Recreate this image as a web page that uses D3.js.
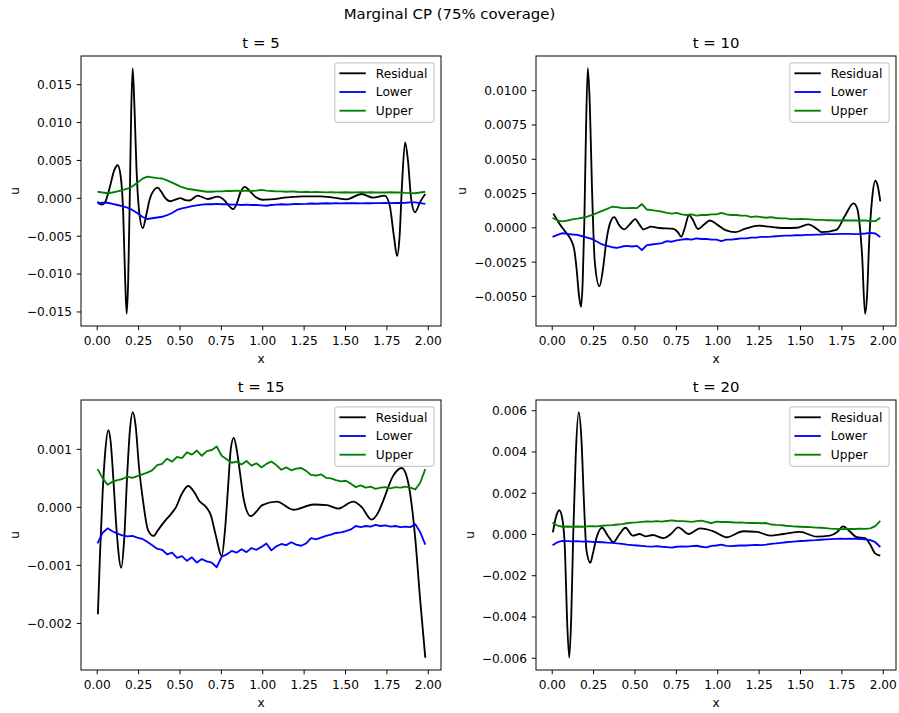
<!DOCTYPE html>
<html>
<head>
<meta charset="utf-8">
<script src="https://cdn.jsdelivr.net/npm/d3@7"></script>
<style>
  html, body { margin: 0; padding: 0; background: #fff; }
  svg { display: block; }
  svg text { font-family: 'DejaVu Sans', sans-serif; }
</style>
</head>
<body>
<script>
// ---------------- DATA ----------------
const figTitle = "Marginal CP (75% coverage)";
const panelTitles = ["t = 5", "t = 10", "t = 15", "t = 20"];
const seriesNames = ["Residual", "Lower", "Upper"];
const seriesColors = ["#000000", "#0000ff", "#008000"];
const xTicks = [0, 0.25, 0.5, 0.75, 1.0, 1.25, 1.5, 1.75, 2.0];
const xLimits = [-0.095, 2.08];

const yTicks5 = [-0.015, -0.010, -0.005, 0.000, 0.005, 0.010, 0.015];
const yTicks10 = [-0.005, -0.0025, 0.0, 0.0025, 0.005, 0.0075, 0.01];
const yTicks15 = [-0.002, -0.001, 0.0, 0.001];
const yTicks20 = [-0.006, -0.004, -0.002, 0.0, 0.002, 0.004, 0.006];

// x grid of the interval bands
const xBand = [0.005,0.035,0.065,0.095,0.125,0.155,0.185,0.215,0.245,0.275,
  0.305,0.335,0.365,0.395,0.425,0.455,0.485,0.515,0.545,0.575,
  0.605,0.635,0.665,0.695,0.725,0.755,0.785,0.815,0.845,0.875,
  0.905,0.935,0.965,0.995,1.025,1.055,1.085,1.115,1.145,1.175,
  1.205,1.235,1.265,1.295,1.325,1.355,1.385,1.415,1.445,1.475,
  1.505,1.535,1.565,1.595,1.625,1.655,1.685,1.715,1.745,1.775,
  1.805,1.835,1.865,1.895,1.925,1.955,1.985];

// t = 5
const residual5 = [[0.005,-0.0005],[0.03,-0.0009],[0.05,-0.0006],[0.08,0.0015],[0.105,0.0036],[0.127,0.0043],
  [0.145,0.0028],[0.16,-0.002],[0.172,-0.011],[0.181,-0.0153],[0.19,-0.011],[0.2,0.0005],[0.208,0.011],
  [0.217,0.0171],[0.228,0.012],[0.24,0.004],[0.255,-0.0015],[0.278,-0.004],[0.3,-0.0022],[0.32,-0.0002],
  [0.345,0.001],[0.368,0.00135],[0.39,0.0008],[0.41,0.0001],[0.445,-0.00045],[0.48,-0.0002],[0.505,-0.00005],
  [0.535,-0.0003],[0.56,-0.00035],[0.61,0.0003],[0.67,-0.00015],[0.73,0.00015],[0.77,-0.0003],[0.805,-0.0012],
  [0.825,-0.0015],[0.845,-0.0008],[0.87,0.0008],[0.895,0.00145],[0.92,0.001],[0.96,0.0001],[1.0,-0.00025],
  [1.05,-0.0002],[1.15,0.00005],[1.25,0.0002],[1.35,0.0002],[1.43,0.00003],[1.51,-0.0002],[1.6,0.0005],
  [1.67,0.00003],[1.74,0.0003],[1.77,-0.001],[1.795,-0.005],[1.815,-0.0077],[1.83,-0.005],[1.845,0.002],
  [1.863,0.0073],[1.88,0.005],[1.9,-0.0002],[1.923,-0.0019],[1.955,-0.0005],[1.985,0.0005]];
const lower5 = [-0.00075,-0.00065,-0.00065,-0.0008,-0.00095,-0.0011,-0.0013,-0.0016,-0.002,-0.0025,
  -0.0028,-0.0027,-0.0026,-0.0025,-0.0023,-0.002,-0.0016,-0.0014,-0.00125,-0.0011,
  -0.001,-0.0009,-0.00085,-0.00085,-0.0008,-0.00085,-0.00085,-0.0009,-0.0009,-0.00095,
  -0.0009,-0.00095,-0.00095,-0.001,-0.00105,-0.00095,-0.0009,-0.00085,-0.00088,-0.00085,
  -0.0008,-0.00083,-0.0008,-0.00075,-0.00078,-0.00075,-0.00072,-0.00075,-0.0007,-0.00073,
  -0.0007,-0.00072,-0.0007,-0.00073,-0.0007,-0.00072,-0.0007,-0.0007,-0.00068,-0.0007,
  -0.00068,-0.00068,-0.00065,-0.0006,-0.0006,-0.0007,-0.0008];
const upper5 = [0.0008,0.0007,0.0006,0.0007,0.00085,0.001,0.0012,0.0015,0.002,0.0025,
  0.0028,0.0027,0.0026,0.00255,0.0023,0.002,0.0017,0.0014,0.0012,0.0011,
  0.001,0.0009,0.0008,0.0008,0.00085,0.00085,0.0009,0.0009,0.00095,0.0009,
  0.00095,0.0009,0.00095,0.00105,0.00095,0.0009,0.00085,0.00085,0.0008,0.00085,
  0.0008,0.00075,0.0008,0.00075,0.00078,0.00075,0.00072,0.00075,0.00072,0.0007,
  0.00073,0.0007,0.00072,0.00075,0.0007,0.00073,0.0007,0.00072,0.0007,0.00073,
  0.0007,0.00072,0.00065,0.00062,0.0006,0.0007,0.0008];

// t = 10
const residual10 = [[0.01,0.001],[0.03,0.0006],[0.05,0.0002],[0.075,-0.0002],[0.1,-0.0006],[0.12,-0.001],
  [0.137,-0.0017],[0.15,-0.003],[0.165,-0.005],[0.177,-0.0058],[0.187,-0.004],[0.197,0.0004],[0.207,0.007],
  [0.218,0.0116],[0.23,0.009],[0.243,0.003],[0.26,-0.0025],[0.288,-0.0043],[0.31,-0.003],[0.33,-0.001],
  [0.355,0.0004],[0.378,0.00075],[0.405,0.0002],[0.438,-0.00015],[0.47,0.0002],[0.505,0.0006],[0.53,0.0002],
  [0.555,-0.00015],[0.6,0.00005],[0.65,-0.00005],[0.73,-0.0001],[0.765,-0.0004],[0.782,-0.0007],[0.8,-0.0002],
  [0.83,0.0009],[0.85,0.0006],[0.885,-0.00012],[0.92,0.0002],[0.955,0.0005],[1.0,0.0002],[1.05,-0.0002],
  [1.108,-0.00035],[1.17,-0.0001],[1.25,0.00012],[1.4,-0.00005],[1.48,-0.00003],[1.55,0.00022],[1.6,-0.0001],
  [1.63,-0.00035],[1.72,-0.00018],[1.77,0.0008],[1.823,0.00175],[1.845,0.0014],[1.862,0.0],[1.875,-0.002],
  [1.893,-0.0063],[1.905,-0.005],[1.918,-0.001],[1.935,0.002],[1.955,0.0034],[1.97,0.003],[1.985,0.0019]];
const lower10 = [-0.0007,-0.00055,-0.00043,-0.00048,-0.00052,-0.00055,-0.00065,-0.00075,-0.00085,-0.00105,
  -0.00125,-0.00135,-0.00145,-0.0015,-0.0014,-0.00135,-0.0014,-0.00135,-0.00165,-0.0013,
  -0.00125,-0.0012,-0.00115,-0.001,-0.00105,-0.00095,-0.0009,-0.00085,-0.0009,-0.0008,
  -0.00085,-0.00085,-0.0009,-0.0009,-0.001,-0.0009,-0.0009,-0.00085,-0.0008,-0.0008,
  -0.00075,-0.00075,-0.0007,-0.0007,-0.00068,-0.00065,-0.00062,-0.0006,-0.0006,-0.00058,
  -0.00058,-0.00055,-0.00055,-0.00053,-0.00052,-0.0005,-0.0005,-0.0005,-0.00048,-0.00048,
  -0.00048,-0.0005,-0.00048,-0.00045,-0.0004,-0.00045,-0.0007];
const upper10 = [0.0007,0.0005,0.00043,0.0005,0.00058,0.00063,0.0007,0.00078,0.0009,0.00105,
  0.0012,0.00135,0.0015,0.00148,0.0014,0.0014,0.00142,0.0014,0.0017,0.0013,
  0.00125,0.0012,0.00115,0.00105,0.001,0.00105,0.00095,0.0009,0.00095,0.00085,
  0.0009,0.0009,0.00095,0.00095,0.00105,0.00095,0.0009,0.0009,0.00085,0.00085,
  0.00075,0.0008,0.00075,0.0007,0.00075,0.00068,0.00065,0.00065,0.0006,0.0006,
  0.00062,0.0006,0.00058,0.00055,0.00055,0.00052,0.00053,0.0005,0.0005,0.00052,
  0.0005,0.0005,0.0005,0.0005,0.00045,0.00045,0.0007];

// t = 15
const residual15 = [[0.007,-0.00185],[0.02,-0.0008],[0.035,0.0002],[0.05,0.0009],[0.07,0.00132],[0.085,0.0011],
  [0.1,0.0005],[0.12,-0.0004],[0.148,-0.00105],[0.165,-0.0006],[0.185,0.0006],[0.2,0.0013],[0.218,0.00163],
  [0.235,0.0014],[0.255,0.0007],[0.28,0.0001],[0.31,-0.0004],[0.343,-0.0005],[0.37,-0.0004],[0.41,-0.00025],
  [0.45,-0.00012],[0.48,0.0],[0.51,0.0002],[0.553,0.00036],[0.59,0.00025],[0.62,0.0001],[0.66,0.0],
  [0.69,-0.00015],[0.72,-0.0005],[0.755,-0.00085],[0.775,-0.0004],[0.795,0.0004],[0.81,0.001],[0.828,0.00119],
  [0.845,0.001],[0.865,0.0006],[0.89,0.0001],[0.93,-0.00016],[0.965,-0.00008],[1.0,0.00003],[1.088,0.00009],
  [1.19,-0.00005],[1.31,0.00004],[1.39,0.00003],[1.46,-0.00003],[1.55,0.00009],[1.6,0.0],[1.66,-0.00022],
  [1.7,-0.0001],[1.73,0.0001],[1.79,0.00053],[1.843,0.00067],[1.875,0.0005],[1.895,0.0002],[1.923,-0.0005],
  [1.954,-0.0016],[1.985,-0.0026]];
const lower15 = [-0.00063,-0.00045,-0.00037,-0.00042,-0.00046,-0.00049,-0.00051,-0.0005,-0.00053,-0.00055,
  -0.0006,-0.00066,-0.00072,-0.00074,-0.00082,-0.00079,-0.00088,-0.00085,-0.00093,-0.00087,
  -0.00096,-0.0009,-0.00094,-0.00096,-0.00104,-0.00086,-0.00082,-0.00076,-0.00079,-0.00073,
  -0.00078,-0.00071,-0.00074,-0.00069,-0.00063,-0.00075,-0.00068,-0.00064,-0.00066,-0.00061,
  -0.00065,-0.00067,-0.00063,-0.00054,-0.00056,-0.00053,-0.0005,-0.00048,-0.00045,-0.00044,
  -0.00042,-0.00039,-0.00033,-0.00035,-0.00033,-0.00034,-0.00031,-0.00033,-0.00032,-0.00034,
  -0.00033,-0.00035,-0.00034,-0.00035,-0.0003,-0.00044,-0.00065];
const upper15 = [0.00065,0.0005,0.00038,0.00043,0.00046,0.00048,0.00052,0.0005,0.00053,0.00056,
  0.00059,0.00063,0.00072,0.00074,0.00083,0.00078,0.00086,0.00084,0.00094,0.0009,
  0.00097,0.00088,0.00096,0.00098,0.00104,0.00088,0.00082,0.00076,0.00078,0.00073,
  0.00079,0.00071,0.00075,0.00068,0.00074,0.00078,0.00072,0.00064,0.00068,0.00063,
  0.00066,0.00067,0.00062,0.00055,0.00054,0.00056,0.0005,0.00049,0.00046,0.00044,
  0.00045,0.0004,0.00034,0.00037,0.00033,0.00035,0.00031,0.00033,0.00034,0.00032,
  0.00034,0.00033,0.00035,0.00033,0.0003,0.00042,0.00065];

// t = 20
const residual20 = [[0.007,0.00008],[0.025,0.0008],[0.046,0.00115],[0.065,0.0007],[0.08,-0.0008],[0.092,-0.004],
  [0.106,-0.006],[0.118,-0.004],[0.13,0.0],[0.145,0.0038],[0.163,0.0059],[0.18,0.0045],[0.195,0.0015],
  [0.21,-0.0008],[0.233,-0.0014],[0.25,-0.0009],[0.27,-0.0002],[0.304,0.0003],[0.34,-0.0001],[0.372,-0.0004],
  [0.41,0.0],[0.445,0.0003],[0.49,-0.00008],[0.53,0.0],[0.57,-0.00012],[0.61,-0.00005],[0.675,-0.0002],
  [0.72,0.0],[0.765,0.00032],[0.826,0.0],[0.896,0.00027],[0.977,0.00013],[1.057,-0.00016],[1.158,0.00013],
  [1.24,0.0001],[1.32,-0.00008],[1.4,0.0],[1.5,0.0001],[1.6,-0.00013],[1.68,-0.00008],[1.725,0.0001],
  [1.76,0.00037],[1.8,0.00013],[1.843,-0.00016],[1.893,-0.0002],[1.923,-0.0005],[1.954,-0.00094],[1.985,-0.00105]];
const lower20 = [-0.00055,-0.0004,-0.00034,-0.00035,-0.00036,-0.00035,-0.00037,-0.00036,-0.00038,-0.00039,
  -0.0004,-0.00042,-0.00043,-0.00046,-0.00048,-0.00052,-0.00054,-0.00056,-0.00058,-0.0006,
  -0.00061,-0.00059,-0.00062,-0.00064,-0.00066,-0.00062,-0.0006,-0.00061,-0.00059,-0.00057,
  -0.00062,-0.00065,-0.00058,-0.00056,-0.00052,-0.00058,-0.00059,-0.00057,-0.00055,-0.00056,
  -0.00054,-0.00053,-0.00054,-0.00052,-0.00048,-0.00046,-0.00043,-0.0004,-0.00038,-0.00036,
  -0.00034,-0.00033,-0.00031,-0.0003,-0.00028,-0.00026,-0.00025,-0.00024,-0.00023,-0.00024,
  -0.00023,-0.00024,-0.00025,-0.00026,-0.0003,-0.0004,-0.00063];
const upper20 = [0.00055,0.0004,0.00035,0.00036,0.00035,0.00036,0.00035,0.00037,0.00038,0.00037,
  0.0004,0.00042,0.00043,0.00046,0.00048,0.00052,0.00055,0.00056,0.00059,0.00061,
  0.0006,0.00062,0.0006,0.00063,0.00066,0.00063,0.00062,0.00061,0.00059,0.00062,
  0.00065,0.00059,0.00052,0.0006,0.00058,0.00059,0.00057,0.00055,0.00056,0.00054,
  0.00053,0.00054,0.00052,0.00053,0.00046,0.00044,0.00043,0.0004,0.00038,0.00036,
  0.00035,0.00034,0.00033,0.00031,0.0003,0.00028,0.00026,0.00025,0.00023,0.00024,
  0.00025,0.00024,0.00026,0.00025,0.00027,0.00038,0.00063];

// ---------------- LAYOUT ----------------
const W = 899, H = 713;
const PW = 360, PH = 270;
const FONT = "'DejaVu Sans', sans-serif";
const TICK_FS = 12.2, TITLE_FS = 14.9;
const panels = [
  {left: 81,  top: 56,  title: panelTitles[0], res: residual5,  lo: lower5,  up: upper5,  ticks: yTicks5,  fmt: ".3f"},
  {left: 536, top: 56,  title: panelTitles[1], res: residual10, lo: lower10, up: upper10, ticks: yTicks10, fmt: ".4f"},
  {left: 81,  top: 400, title: panelTitles[2], res: residual15, lo: lower15, up: upper15, ticks: yTicks15, fmt: ".3f"},
  {left: 536, top: 400, title: panelTitles[3], res: residual20, lo: lower20, up: upper20, ticks: yTicks20, fmt: ".3f"}
];

const svg = d3.select("body").append("svg")
  .attr("width", W).attr("height", H)
  .attr("font-family", FONT);

svg.append("rect").attr("width", W).attr("height", H).attr("fill", "#fff");

svg.append("text")
  .attr("x", 449.5).attr("y", 19)
  .attr("text-anchor", "middle")
  .style("font-size", TITLE_FS + "px")
  .text(figTitle);

panels.forEach((p, pi) => {
  const g = svg.append("g").attr("transform", `translate(${p.left},${p.top})`);
  const x = d3.scaleLinear().domain(xLimits).range([0, PW]);
  const allY = p.res.map(d => d[1]).concat(p.lo, p.up);
  const ymin = d3.min(allY), ymax = d3.max(allY), m = 0.05 * (ymax - ymin);
  const y = d3.scaleLinear().domain([ymin - m, ymax + m]).range([PH, 0]);

  const clipId = "clip" + pi;
  g.append("clipPath").attr("id", clipId).append("rect").attr("width", PW).attr("height", PH);

  const plot = g.append("g").attr("clip-path", `url(#${clipId})`);
  const resLine = d3.line().x(d => x(d[0])).y(d => y(d[1])).curve(d3.curveMonotoneX);
  const bandLine = d3.line().x((d, i) => x(xBand[i])).y(d => y(d));

  plot.append("path").datum(p.res).attr("d", resLine)
    .attr("fill", "none").attr("stroke", seriesColors[0]).attr("stroke-width", 1.84)
    .attr("stroke-linejoin", "round").attr("stroke-linecap", "butt");
  plot.append("path").datum(p.lo).attr("d", bandLine)
    .attr("fill", "none").attr("stroke", seriesColors[1]).attr("stroke-width", 1.84)
    .attr("stroke-linejoin", "round");
  plot.append("path").datum(p.up).attr("d", bandLine)
    .attr("fill", "none").attr("stroke", seriesColors[2]).attr("stroke-width", 1.84)
    .attr("stroke-linejoin", "round");

  // axes
  const xAxis = g.append("g").attr("transform", `translate(0,${PH})`)
    .call(d3.axisBottom(x).tickValues(xTicks).tickFormat(d3.format(".2f")).tickSize(4.3).tickSizeOuter(0));
  xAxis.attr("font-family", FONT).attr("font-size", TICK_FS);
  xAxis.select(".domain").remove();
  xAxis.selectAll("line").attr("stroke", "#000").attr("stroke-width", 0.98);
  xAxis.selectAll("text").attr("y", 19).attr("dy", null)
    .style("font-family", FONT).style("font-size", TICK_FS + "px").attr("fill", "#000");

  const yAxis = g.append("g")
    .call(d3.axisLeft(y).tickValues(p.ticks).tickFormat(d3.format(p.fmt)).tickSize(4.3).tickSizeOuter(0));
  yAxis.attr("font-family", FONT).attr("font-size", TICK_FS);
  yAxis.select(".domain").remove();
  yAxis.selectAll("line").attr("stroke", "#000").attr("stroke-width", 0.98);
  yAxis.selectAll("text").attr("x", -9).attr("dy", "0.36em")
    .style("font-family", FONT).style("font-size", TICK_FS + "px").attr("fill", "#000");

  // spines
  g.append("rect").attr("width", PW).attr("height", PH)
    .attr("fill", "none").attr("stroke", "#000").attr("stroke-width", 0.98);

  // labels
  g.append("text").attr("x", PW / 2).attr("y", PH + 36.5)
    .attr("text-anchor", "middle").style("font-size", TICK_FS + "px").text("x");

  const bb = yAxis.node().getBBox();
  const ylx = bb.x - 4.9 - 2.9;
  g.append("text")
    .attr("transform", `translate(${ylx},${PH / 2}) rotate(-90)`)
    .attr("text-anchor", "middle").style("font-size", TICK_FS + "px").text("u");

  g.append("text").attr("x", PW / 2).attr("y", -7.8)
    .attr("text-anchor", "middle").style("font-size", TITLE_FS + "px").text(p.title);

  // legend
  const LW = 99.3, LH = 59.4;
  const lg = g.append("g").attr("transform", `translate(${PW - 6.9 - LW},${6.9})`);
  lg.append("rect").attr("width", LW).attr("height", LH).attr("rx", 2.5).attr("ry", 2.5)
    .attr("fill", "#fff").attr("fill-opacity", 0.8)
    .attr("stroke", "#cccccc").attr("stroke-width", 1.2);
  const rowY = [10.4, 29.1, 47.8];
  seriesNames.forEach((name, i) => {
    lg.append("line").attr("x1", 4.6).attr("x2", 31).attr("y1", rowY[i]).attr("y2", rowY[i])
      .attr("stroke", seriesColors[i]).attr("stroke-width", 1.84);
    lg.append("text").attr("x", 41).attr("y", rowY[i]).attr("dy", "0.36em")
      .style("font-size", TICK_FS + "px").text(name);
  });
});
</script>
</body>
</html>
